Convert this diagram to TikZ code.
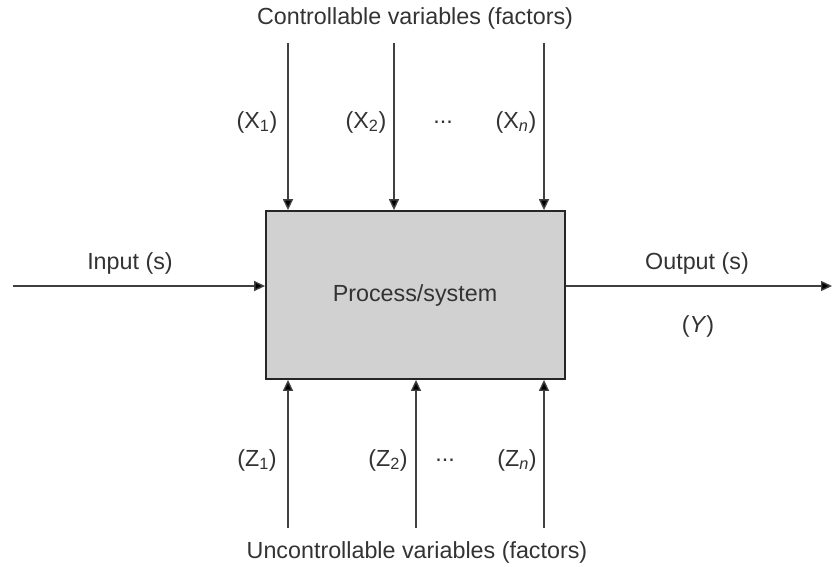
\documentclass[tikz,border=0pt]{standalone}
\usepackage{fontspec}
\setmainfont{Liberation Sans}
\usetikzlibrary{arrows.meta}
\begin{document}
\begin{tikzpicture}[x=1pt,y=-1pt,
  conn/.style={draw=black!75,line width=1.4pt,-{Triangle[length=11pt,width=10pt,fill=black]}},
  lbl/.style={inner sep=0pt,text=black!80,font=\fontsize{23.3}{27}\selectfont},
  proc/.style={draw=black!85,line width=1.8pt,fill=black!18,minimum width=299pt,minimum height=168pt,inner sep=0pt}]
\useasboundingbox (0,0) rectangle (832,567);
\node[proc] (box) at (415.5,295) {};
\node[lbl] (ptext) at (415,295) {Process/system};
% top
\coordinate (t1) at (288,43);
\coordinate (t2) at (394,43);
\coordinate (t3) at (544,43);
\draw[conn] (t1) -- (t1 |- box.north);
\draw[conn] (t2) -- (t2 |- box.north);
\draw[conn] (t3) -- (t3 |- box.north);
\node[lbl] (ctrl) at (415,18) {Controllable variables (factors)};
\node[lbl] (x1) at (257,122) {(X\textsubscript{1})};
\node[lbl] (x2) at (366,122) {(X\textsubscript{2})};
\node[lbl] (xd) at (443,122) {...};
\node[lbl] (xn) at (516,122) {(X\textsubscript{\textit{n}})};
% bottom
\coordinate (b1) at (288,528);
\coordinate (b2) at (416,528);
\coordinate (b3) at (544,528);
\draw[conn] (b1) -- (b1 |- box.south);
\draw[conn] (b2) -- (b2 |- box.south);
\draw[conn] (b3) -- (b3 |- box.south);
\node[lbl] (unc) at (417,552) {Uncontrollable variables (factors)};
\node[lbl] (z1) at (257,460) {(Z\textsubscript{1})};
\node[lbl] (z2) at (388,460) {(Z\textsubscript{2})};
\node[lbl] (zd) at (445,460) {...};
\node[lbl] (zn) at (517,460) {(Z\textsubscript{\textit{n}})};
% input/output
\coordinate (in) at (13,286);
\coordinate (out) at (832,286);
\draw[conn] (in) -- (in -| box.west);
\draw[conn] (box.east |- out) -- (out);
\node[lbl] (inl) at (130,263) {Input (s)};
\node[lbl] (outl) at (697,263) {Output (s)};
\node[lbl] (y) at (698,326) {(\textit{Y})};
\end{tikzpicture}
\end{document}
